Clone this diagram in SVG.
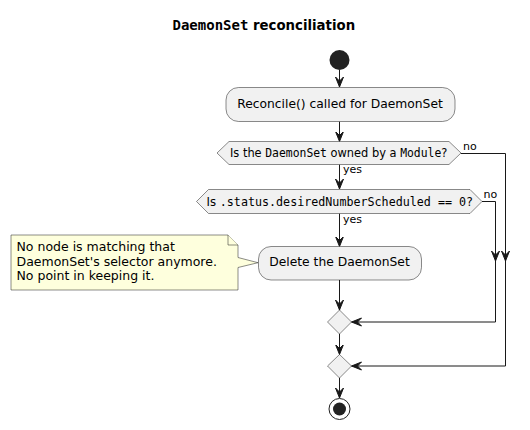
<svg xmlns="http://www.w3.org/2000/svg" width="530" height="430" viewBox="0 0 530 430">
<defs>
<style>
.box{fill:#F1F1F1;stroke:#181818;stroke-width:0.5}
.ln{fill:none;stroke:#181818;stroke-width:1}
.t{font-family:"DejaVu Sans",sans-serif;fill:#000}
.m{font-family:"DejaVu Sans Mono",monospace}
.note{fill:#FEFFDD;stroke:#181818;stroke-width:0.5}
</style>
<marker id="arr" viewBox="0 0 12 10" markerWidth="12" markerHeight="10" refX="10" refY="5" orient="auto" markerUnits="userSpaceOnUse">
<path d="M0,1 L10,5 L0,9 L4,5 Z" fill="#181818" stroke="#181818" stroke-width="1"/>
</marker>
</defs>
<rect width="530" height="430" fill="#FFFFFF"/>
<text class="t" x="172.5" y="30" font-size="13.3" font-weight="bold"><tspan class="m" font-size="14">DaemonSet</tspan> reconciliation</text>

<g id="connectors">
<line class="ln" x1="339.5" y1="70" x2="339.5" y2="87" marker-end="url(#arr)"/>
<line class="ln" x1="339.5" y1="121.5" x2="339.5" y2="141.5" marker-end="url(#arr)"/>
<line class="ln" x1="339.5" y1="164.5" x2="339.5" y2="189" marker-end="url(#arr)"/>
<line class="ln" x1="339.5" y1="213.5" x2="339.5" y2="246.5" marker-end="url(#arr)"/>
<line class="ln" x1="339.5" y1="280" x2="339.5" y2="310" marker-end="url(#arr)"/>
<line class="ln" x1="339.5" y1="334" x2="339.5" y2="354.5" marker-end="url(#arr)"/>
<line class="ln" x1="339.5" y1="378" x2="339.5" y2="398" marker-end="url(#arr)"/>
<polyline class="ln" points="461,153.5 505.5,153.5 505.5,366 351.5,366" marker-end="url(#arr)"/>
<polyline class="ln" points="482,201.5 495.5,201.5 495.5,322 351.5,322" marker-end="url(#arr)"/>
<line class="ln" x1="505.5" y1="240" x2="505.5" y2="261" marker-end="url(#arr)"/>
<line class="ln" x1="495.5" y1="240" x2="495.5" y2="261" marker-end="url(#arr)"/>
<text class="t" x="343" y="173" font-size="11">yes</text>
<text class="t" x="343" y="223" font-size="11">yes</text>
<text class="t" x="463" y="150" font-size="11">no</text>
<text class="t" x="483.5" y="198" font-size="11">no</text>
</g>

<g id="start">
<circle cx="339.5" cy="60" r="10" fill="#222222"/>
</g>

<g id="reconcile">
<rect class="box" x="226" y="87.5" width="229" height="34" rx="12.5" ry="12.5"/>
<text class="t" x="340" y="107.7" font-size="12.3" text-anchor="middle">Reconcile() called for DaemonSet</text>
</g>

<g id="ifOwned">
<polygon class="box" points="217,153 229,141.5 449,141.5 461,153 449,164.5 229,164.5"/>
<text class="t" x="230" y="157" font-size="11.4">Is the <tspan class="m">DaemonSet</tspan> owned by a <tspan class="m">Module</tspan>?</text>
</g>

<g id="ifZero">
<polygon class="box" points="196.5,201.5 208.5,189.5 470,189.5 482,201.5 470,213.5 208.5,213.5"/>
<text class="t" x="206.5" y="205.5" font-size="11.7">Is <tspan class="m">.status.desiredNumberScheduled == 0?</tspan></text>
</g>

<g id="delete">
<rect class="box" x="258.5" y="246.5" width="163" height="33.5" rx="12.5" ry="12.5"/>
<text class="t" x="339.5" y="265.7" font-size="12.3" text-anchor="middle">Delete the DaemonSet</text>
</g>

<g id="note">
<path class="note" d="M11,235 L228,235 L238,245 L238,257.5 L258,262.7 L238,267.5 L238,290 L11,290 Z"/>
<path class="note" d="M228,235 L228,245 L238,245" fill="none"/>
<text class="t" font-size="12.5"><tspan x="16.5" y="251">No node is matching that</tspan><tspan x="16.5" y="265.6">DaemonSet's selector anymore.</tspan><tspan x="16.5" y="280.2">No point in keeping it.</tspan></text>
</g>

<g id="merge1">
<polygon class="box" points="339.5,310 351.5,322 339.5,334 327.5,322"/>
</g>

<g id="merge2">
<polygon class="box" points="339.5,354.5 351.5,366 339.5,378 327.5,366"/>
</g>

<g id="end">
<circle cx="339.5" cy="409" r="10.5" fill="none" stroke="#222222" stroke-width="1"/>
<circle cx="339.5" cy="409" r="6.5" fill="#222222"/>
</g>
</svg>
